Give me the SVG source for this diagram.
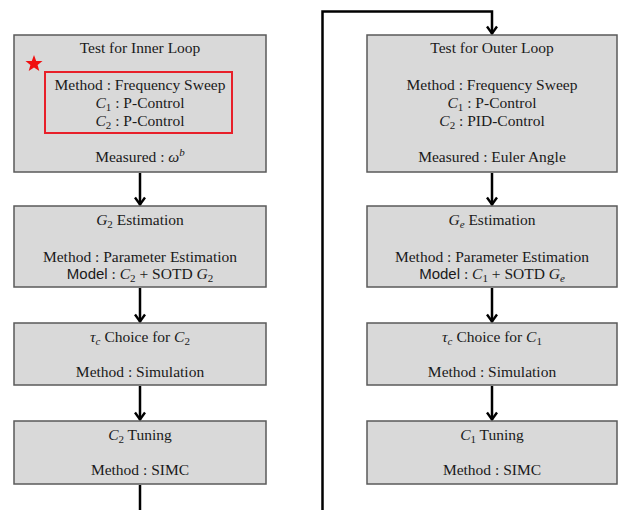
<svg xmlns="http://www.w3.org/2000/svg" width="620" height="510" viewBox="0 0 620 510">
  <style>
    .box { fill: #d9d9d9; stroke: #5a5a5a; stroke-width: 1.5; }
    .t { font-family: "Liberation Serif", "Times New Roman", serif; font-size: 15.5px; fill: #1a1a1a; text-anchor: middle; }
    .m { font-style: italic; }
    .s { font-size: 11px; }
    .sans { font-family: "Liberation Sans", Arial, sans-serif; font-size: 15px; }
    .wire { fill: none; stroke: #000; stroke-width: 2.5; }
  </style>
  <defs>
    <!-- open chevron arrowhead, drawn pointing along +x -->
    <marker id="chev" viewBox="0 0 12 12" refX="10.5" refY="6" markerWidth="12" markerHeight="12" markerUnits="userSpaceOnUse" orient="auto">
      <path d="M3,1 L10,6 L3,11" fill="none" stroke="#000" stroke-width="2.4" stroke-linejoin="miter"/>
    </marker>
  </defs>

  <rect width="620" height="510" fill="#fff"/>

  <!-- connectors -->
  <g id="connectors">
    <path class="wire" d="M140,173 V205" marker-end="url(#chev)"/>
    <path class="wire" d="M140,288 V322" marker-end="url(#chev)"/>
    <path class="wire" d="M140,386 V420" marker-end="url(#chev)"/>
    <path class="wire" d="M140,485 V510"/>
    <path class="wire" d="M322.5,510 V11.5 H492 V34" marker-end="url(#chev)"/>
    <path class="wire" d="M492,173 V205" marker-end="url(#chev)"/>
    <path class="wire" d="M492,288 V322" marker-end="url(#chev)"/>
    <path class="wire" d="M492,386 V420" marker-end="url(#chev)"/>
  </g>

  <!-- inner loop column -->
  <g id="inner-test">
    <rect class="box" x="14" y="35" width="252" height="137"/>
    <text class="t" x="140" y="53">Test for Inner Loop</text>
    <rect x="45" y="72" width="187" height="61" fill="none" stroke="#e8202a" stroke-width="2"/>
    <polygon points="34,55 36.2,60.9 42.5,61.1 37.6,65 39.3,71 34,67.5 28.7,71 30.4,65 25.5,61.1 31.8,60.9" fill="#f01010"/>
    <text class="t" x="140" y="90">Method : Frequency Sweep</text>
    <text class="t" x="140" y="108"><tspan class="m">C</tspan><tspan class="s" dy="3">1</tspan><tspan dy="-3"> : P-Control</tspan></text>
    <text class="t" x="140" y="126"><tspan class="m">C</tspan><tspan class="s" dy="3">2</tspan><tspan dy="-3"> : P-Control</tspan></text>
    <text class="t" x="140" y="162">Measured : <tspan class="m">ω</tspan><tspan class="s m" dy="-6">b</tspan></text>
  </g>

  <g id="inner-estimation">
    <rect class="box" x="14" y="206" width="252" height="81"/>
    <text class="t" x="140" y="225"><tspan class="m">G</tspan><tspan class="s" dy="3">2</tspan><tspan dy="-3"> Estimation</tspan></text>
    <text class="t" x="140" y="262">Method : Parameter Estimation</text>
    <text class="t" x="140" y="279"><tspan class="sans">Model</tspan> : <tspan class="m">C</tspan><tspan class="s" dy="3">2</tspan><tspan dy="-3">  + SOTD </tspan><tspan class="m">G</tspan><tspan class="s" dy="3">2</tspan></text>
  </g>

  <g id="inner-tau">
    <rect class="box" x="14" y="323" width="252" height="62"/>
    <text class="t" x="140" y="342"><tspan class="m">τ</tspan><tspan class="s m" dy="3">c</tspan><tspan dy="-3"> Choice for </tspan><tspan class="m">C</tspan><tspan class="s" dy="3">2</tspan></text>
    <text class="t" x="140" y="377">Method : Simulation</text>
  </g>

  <g id="inner-tuning">
    <rect class="box" x="14" y="421" width="252" height="63"/>
    <text class="t" x="140" y="440"><tspan class="m">C</tspan><tspan class="s" dy="3">2</tspan><tspan dy="-3"> Tuning</tspan></text>
    <text class="t" x="140" y="475">Method : SIMC</text>
  </g>

  <!-- outer loop column -->
  <g id="outer-test">
    <rect class="box" x="367" y="35" width="250" height="137"/>
    <text class="t" x="492" y="53">Test for Outer Loop</text>
    <text class="t" x="492" y="90">Method : Frequency Sweep</text>
    <text class="t" x="492" y="108"><tspan class="m">C</tspan><tspan class="s" dy="3">1</tspan><tspan dy="-3"> : P-Control</tspan></text>
    <text class="t" x="492" y="126"><tspan class="m">C</tspan><tspan class="s" dy="3">2</tspan><tspan dy="-3"> : PID-Control</tspan></text>
    <text class="t" x="492" y="162">Measured : Euler Angle</text>
  </g>

  <g id="outer-estimation">
    <rect class="box" x="367" y="206" width="250" height="81"/>
    <text class="t" x="492" y="225"><tspan class="m">G</tspan><tspan class="s m" dy="3">e</tspan><tspan dy="-3"> Estimation</tspan></text>
    <text class="t" x="492" y="262">Method : Parameter Estimation</text>
    <text class="t" x="492" y="279"><tspan class="sans">Model</tspan> : <tspan class="m">C</tspan><tspan class="s" dy="3">1</tspan><tspan dy="-3">  + SOTD </tspan><tspan class="m">G</tspan><tspan class="s m" dy="3">e</tspan></text>
  </g>

  <g id="outer-tau">
    <rect class="box" x="367" y="323" width="250" height="62"/>
    <text class="t" x="492" y="342"><tspan class="m">τ</tspan><tspan class="s m" dy="3">c</tspan><tspan dy="-3"> Choice for </tspan><tspan class="m">C</tspan><tspan class="s" dy="3">1</tspan></text>
    <text class="t" x="492" y="377">Method : Simulation</text>
  </g>

  <g id="outer-tuning">
    <rect class="box" x="367" y="421" width="250" height="63"/>
    <text class="t" x="492" y="440"><tspan class="m">C</tspan><tspan class="s" dy="3">1</tspan><tspan dy="-3"> Tuning</tspan></text>
    <text class="t" x="492" y="475">Method : SIMC</text>
  </g>
</svg>
